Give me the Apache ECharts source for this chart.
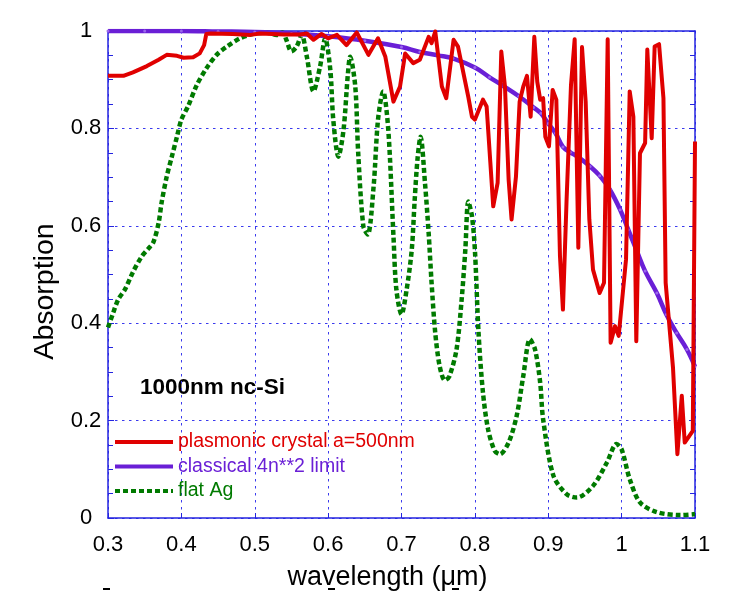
<!DOCTYPE html>
<html>
<head>
<meta charset="utf-8">
<script src="https://cdn.jsdelivr.net/npm/echarts@6/dist/echarts.min.js"></script>
<style>
  html, body { margin: 0; padding: 0; background: #ffffff; }
  #chart { width: 756px; height: 596px; }
</style>
</head>
<body>
<div id="chart"></div>
<script>
// Absorption spectra of a 1000 nm nc-Si layer: [wavelength (um), absorption]
const plasmonicCrystal = [
  [0.300, 0.908], [0.321, 0.908], [0.334, 0.915], [0.353, 0.928], [0.369, 0.941],
  [0.380, 0.951], [0.394, 0.949], [0.403, 0.945], [0.416, 0.946], [0.425, 0.954],
  [0.431, 0.971], [0.434, 0.994], [0.440, 0.995], [0.470, 0.994], [0.494, 0.992],
  [0.507, 0.995], [0.540, 0.993], [0.562, 0.993], [0.571, 0.995], [0.580, 0.982],
  [0.591, 0.994], [0.600, 0.985], [0.612, 0.992], [0.625, 0.971], [0.639, 0.997],
  [0.655, 0.951], [0.668, 0.985], [0.678, 0.947], [0.689, 0.855], [0.698, 0.886],
  [0.705, 0.954], [0.716, 0.934], [0.725, 0.941], [0.737, 0.988], [0.741, 0.975],
  [0.746, 0.999], [0.755, 0.886], [0.761, 0.862], [0.771, 0.982], [0.777, 0.968],
  [0.791, 0.865], [0.796, 0.824], [0.800, 0.818], [0.811, 0.859], [0.816, 0.845],
  [0.821, 0.732], [0.825, 0.640], [0.831, 0.688], [0.836, 0.958], [0.841, 0.886],
  [0.846, 0.695], [0.850, 0.613], [0.856, 0.701], [0.861, 0.855], [0.866, 0.886],
  [0.871, 0.908], [0.876, 0.824], [0.881, 0.988], [0.885, 0.896], [0.889, 0.859],
  [0.893, 0.862], [0.896, 0.783], [0.901, 0.763], [0.906, 0.879], [0.911, 0.859],
  [0.916, 0.537], [0.920, 0.428], [0.925, 0.654], [0.931, 0.889], [0.936, 0.983],
  [0.941, 0.555], [0.946, 0.967], [0.951, 0.855], [0.956, 0.613], [0.961, 0.510],
  [0.970, 0.462], [0.976, 0.483], [0.981, 0.983], [0.985, 0.360], [0.991, 0.394],
  [0.996, 0.374], [1.006, 0.531], [1.011, 0.876], [1.016, 0.824], [1.020, 0.363],
  [1.025, 0.749], [1.032, 0.770], [1.035, 0.962], [1.041, 0.780], [1.045, 0.968],
  [1.051, 0.973], [1.057, 0.862], [1.060, 0.483], [1.070, 0.309], [1.076, 0.131],
  [1.082, 0.251], [1.086, 0.155], [1.097, 0.179], [1.100, 0.773]
];

const classicalLimit = [
  [0.300, 1.000], [0.350, 1.000], [0.400, 1.000], [0.450, 0.999], [0.500, 0.998],
  [0.550, 0.995], [0.600, 0.989], [0.650, 0.980], [0.700, 0.967], [0.725, 0.957],
  [0.750, 0.950], [0.770, 0.944], [0.800, 0.925], [0.820, 0.905], [0.840, 0.886],
  [0.860, 0.866], [0.880, 0.843], [0.890, 0.831], [0.900, 0.810], [0.910, 0.790],
  [0.920, 0.762], [0.930, 0.751], [0.940, 0.742], [0.957, 0.722], [0.970, 0.703],
  [0.984, 0.674], [0.998, 0.633], [1.009, 0.592], [1.020, 0.551], [1.032, 0.507],
  [1.048, 0.462], [1.061, 0.418], [1.075, 0.380], [1.089, 0.346], [1.100, 0.311]
];

const flatAg = [
  [0.300, 0.391], [0.307, 0.421], [0.314, 0.449], [0.323, 0.469], [0.334, 0.505],
  [0.346, 0.537], [0.355, 0.553], [0.362, 0.567], [0.369, 0.606], [0.373, 0.647],
  [0.380, 0.701], [0.387, 0.742], [0.394, 0.783], [0.400, 0.818], [0.409, 0.845],
  [0.421, 0.889], [0.434, 0.923], [0.448, 0.951], [0.462, 0.968], [0.480, 0.985],
  [0.498, 0.994], [0.516, 0.997], [0.530, 0.992], [0.538, 0.997], [0.543, 0.982],
  [0.550, 0.958], [0.557, 0.968], [0.564, 0.992], [0.571, 0.947], [0.580, 0.876],
  [0.589, 0.927], [0.596, 0.985], [0.603, 0.920], [0.607, 0.818], [0.614, 0.742],
  [0.621, 0.797], [0.627, 0.913], [0.630, 0.947], [0.637, 0.886], [0.641, 0.749],
  [0.648, 0.599], [0.654, 0.582], [0.662, 0.681], [0.668, 0.818], [0.675, 0.876],
  [0.682, 0.797], [0.689, 0.580], [0.693, 0.469], [0.700, 0.418], [0.707, 0.469],
  [0.714, 0.551], [0.718, 0.654], [0.722, 0.740], [0.726, 0.783], [0.732, 0.688],
  [0.737, 0.585], [0.741, 0.483], [0.746, 0.380], [0.752, 0.312], [0.759, 0.283],
  [0.765, 0.290], [0.775, 0.346], [0.782, 0.449], [0.787, 0.551], [0.791, 0.650],
  [0.796, 0.620], [0.800, 0.551], [0.805, 0.380], [0.811, 0.258], [0.818, 0.182],
  [0.827, 0.138], [0.834, 0.131], [0.846, 0.155], [0.857, 0.210], [0.866, 0.292],
  [0.875, 0.367], [0.882, 0.346], [0.889, 0.278], [0.893, 0.203], [0.907, 0.087],
  [0.925, 0.049], [0.939, 0.042], [0.961, 0.066], [0.980, 0.114], [0.993, 0.152],
  [1.000, 0.141], [1.011, 0.080], [1.025, 0.032], [1.048, 0.012], [1.080, 0.006],
  [1.100, 0.008]
];

const seriesNames = ['plasmonic crystal a=500nm', 'classical 4n**2 limit', 'flat Ag'];
const xTickLabels = ['0.3', '0.4', '0.5', '0.6', '0.7', '0.8', '0.9', '1', '1.1'];
const yTickLabels = ['0', '0.2', '0.4', '0.6', '0.8', '1'];

const RED = '#e00000';
const PURPLE = '#6a1fd6';
const GREEN = '#007a00';
const FRAME = '#2424e0';
const FONT = 'Liberation Sans, Arial, sans-serif';

const chart = echarts.init(document.getElementById('chart'), null, { renderer: 'canvas' });

const gridLine = { show: true, lineStyle: { color: '#3a3aee', width: 1, type: [2.5, 4.5] } };
// legend keys show only the line, no point marker
const hiddenMarker = { opacity: 0 };

const option = {
  animation: false,
  backgroundColor: '#ffffff',
  grid: { left: 108, right: 61, top: 31, bottom: 77, containLabel: false },
  xAxis: [
    {
      type: 'value', min: 0.3, max: 1.1, interval: 0.1,
      name: 'wavelength (\u03bcm)', nameLocation: 'middle', nameGap: 46,
      nameTextStyle: { fontFamily: FONT, fontSize: 27, color: '#000', padding: [0, 28, 0, 0] },
      axisLine: { show: true, onZero: false, lineStyle: { color: FRAME, width: 1.5 } },
      axisTick: { show: true, inside: true, length: 5, lineStyle: { color: FRAME } },
      axisLabel: {
        margin: 16, fontFamily: FONT, fontSize: 22, color: '#000',
        formatter: (v) => xTickLabels[Math.round((v - 0.3) * 10)]
      },
      splitLine: gridLine
    },
    {
      type: 'value', position: 'top', min: 0.3, max: 1.1, interval: 0.1,
      axisLine: { show: true, onZero: false, lineStyle: { color: FRAME, width: 1.5 } },
      axisTick: { show: false }, axisLabel: { show: false }, splitLine: { show: false }
    }
  ],
  yAxis: [
    {
      type: 'value', min: 0, max: 1, interval: 0.2,
      name: 'Absorption', nameLocation: 'middle', nameGap: 47,
      nameTextStyle: { fontFamily: FONT, fontSize: 28.5, color: '#000', padding: [0, 0, 0, -34] },
      axisLine: { show: true, lineStyle: { color: FRAME, width: 1.5 } },
      axisTick: { show: true, inside: true, length: 6, lineStyle: { color: FRAME } },
      minorTick: { show: true, splitNumber: 4, length: 5, lineStyle: { color: FRAME } },
      axisLabel: {
        margin: 22, align: 'center', fontFamily: FONT, fontSize: 22, color: '#000',
        formatter: (v) => yTickLabels[Math.round(v * 5)]
      },
      splitLine: gridLine
    },
    {
      type: 'value', position: 'right', min: 0, max: 1, interval: 0.2,
      axisLine: { show: true, lineStyle: { color: FRAME, width: 1.5 } },
      axisTick: { show: true, inside: true, length: 6, lineStyle: { color: FRAME } },
      minorTick: { show: true, splitNumber: 4, length: 5, lineStyle: { color: FRAME } },
      axisLabel: { show: false }, splitLine: { show: false }
    }
  ],
  legend: {
    orient: 'vertical', left: 113, top: 432, padding: 0,
    itemWidth: 58, itemHeight: 14, itemGap: 4.5,
    textStyle: { fontFamily: FONT, fontSize: 19.5 },
    lineStyle: { width: 4 },
    data: [
      { name: seriesNames[0], textStyle: { color: RED }, itemStyle: hiddenMarker },
      { name: seriesNames[1], textStyle: { color: PURPLE }, itemStyle: hiddenMarker },
      { name: seriesNames[2], textStyle: { color: GREEN }, itemStyle: hiddenMarker }
    ]
  },
  graphic: [
    {
      type: 'text', left: 140, top: 376,
      style: { text: '1000nm nc-Si', fontFamily: FONT, fontWeight: 'bold', fontSize: 22.5, fill: '#000' }
    },
    { type: 'rect', shape: { x: 103, y: 588, width: 7, height: 2 }, style: { fill: '#000' } },
    { type: 'rect', shape: { x: 328, y: 588, width: 7, height: 2 }, style: { fill: '#000' } },
    { type: 'rect', shape: { x: 452, y: 588, width: 7, height: 2 }, style: { fill: '#000' } }
  ],
  series: [
    {
      name: seriesNames[2], type: 'line', data: flatAg, z: 2,
      symbol: 'none', smooth: 0.3,
      lineStyle: { color: GREEN, width: 4.5, type: [5, 3], cap: 'butt' },
      itemStyle: { color: GREEN }
    },
    {
      name: seriesNames[1], type: 'line', data: classicalLimit, z: 3,
      symbol: 'circle', symbolSize: 3, showSymbol: true, smooth: 0.4,
      lineStyle: { color: PURPLE, width: 4.5 },
      itemStyle: { color: '#9a66ee', borderWidth: 0 }
    },
    {
      name: seriesNames[0], type: 'line', data: plasmonicCrystal, z: 4,
      symbol: 'none',
      lineStyle: { color: RED, width: 4, join: 'round' },
      itemStyle: { color: RED }
    }
  ]
};

chart.setOption(option);
</script>
</body>
</html>
